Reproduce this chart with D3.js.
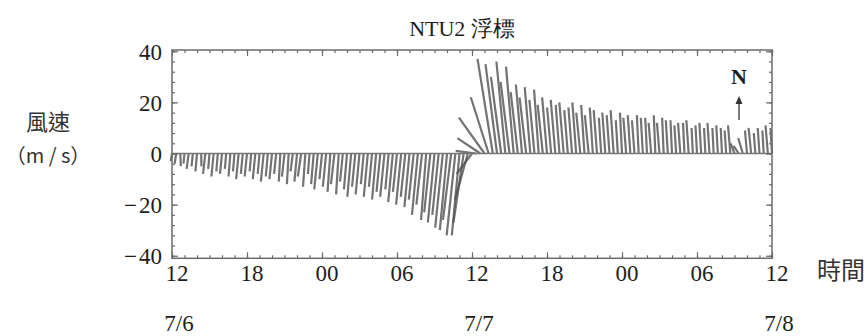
<!DOCTYPE html>
<html>
<head>
<meta charset="utf-8">
<script src="https://cdn.jsdelivr.net/npm/d3@7/dist/d3.min.js"></script>
<style>
  html, body { margin: 0; padding: 0; background: #fff; }
  svg { display: block; }
  .num { font-family: "Liberation Serif", "Times New Roman", serif; fill: #1e1e1e; }
  .cjk { font-family: "Noto Sans CJK TC", "Noto Sans CJK SC", sans-serif; fill: #333; }
</style>
</head>
<body>
<svg id="chart" width="867" height="336"></svg>
<script>
// ---------------- data ----------------
const title = "NTU2 浮標";
const yTitle1 = "風速";
const yTitle2 = "（m / s）";
const xTitle = "時間";
const northLabel = "N";

// sampling: every 20 minutes from 7/6 12:00 (hour 0) to 7/8 12:00 (hour 48)
const stepHours = 1 / 3;

// northward wind component v (m/s), 3 samples per hour
const vWind = [
  -3, -4, -5,   -4, -6, -5,   -7, -5, -8,   -6, -9, -7,    // h0-3
  -8, -6, -9,   -7, -10, -8,  -9, -7, -10,  -8, -11, -9,   // h4-7
  -10, -8, -11, -9, -12, -7,  -11, -9, -13, -8, -12, -14,  // h8-11
  -10, -13, -15, -12, -16, -11, -14, -17, -13, -16, -12, -17, // h12-15
  -13, -18, -15, -17, -14, -19, -15, -20, -17, -21, -18, -24, // h16-19
  -20, -26, -23, -27, -24, -29, -30, -26, -32, -32, -27, -18, // h20-23
  -8, 1, 6,     14, 22, 37,   35, 30, 36,   28, 34, 24,    // h24-27
  27, 22, 26,   21, 25, 19,   22, 18, 21,   19, 20, 17,    // h28-31
  18, 20, 16,   19, 15, 18,   17, 14, 16,   15, 17, 13,    // h32-35
  16, 14, 15,   13, 15, 14,   14, 12, 15,   12, 14, 13,    // h36-39
  13, 11, 12,   12, 13, 10,   11, 12, 10,   12, 10, 11,    // h40-43
  10, 9, 11,    4, 3, 6,      9, 10, 8,     10, 9, 11,     // h44-47
  10                                                       // h48
];

// eastward wind component u (m/s), 3 samples per hour
const uWind = [
  -0.5, -0.6, 0.2,  -0.4, -0.8, -0.5, -0.6, 0.1, -0.9, -0.5, -0.9, -0.6, // h0-3
  -0.8, -0.5, -0.7, -0.6, -1.0, -0.8, -0.9, -0.6, -1.0, -0.7, -1.1, -0.8, // h4-7
  -1.0, -0.8, -0.6, -1.0, -0.7, -0.9, -1.0, -1.3, -0.9, -0.6, -1.0, -1.4, // h8-11
  -1.0, -1.3, -1.1, -1.4, -1.0, -1.1, -1.2, -1.5, -1.3, -1.5, -1.1, -1.6, // h12-15
  -1.2, -1.6, -1.5, -1.7, -1.3, -1.8, -1.6, -2.0, -1.8, -2.0, -1.9, -2.3, // h16-19
  -2.2, -2.0, -2.4, -2.6, -2.5, -3.0, -2.8, -3.2, -3.4, -3.0, -4.0, -5.0, // h20-23
  -6, -8, -9,       -10, -7, -6,      -4.5, -4.0, -3.5, -3.5, -3.0, -2.8, // h24-27
  -2.4, -2.6, -2.2, -2.0, -1.8, -2.0, -1.9, -1.6, -1.8, -1.5, -1.7, -1.4, // h28-31
  -1.4, -1.5, -1.6, -1.3, -1.5, -1.2, -1.3, -0.9, -1.2, -1.1, -1.2, -0.8, // h32-35
  -0.8, -1.1, -1.0, -1.0, -0.7, -0.8, -0.7, -1.0, -0.6, -1.0, -0.6, -0.8, // h36-39
  -0.6, -0.7, -0.9, -0.6, -0.9, -0.5, -0.6, -0.7, -0.5, -0.8, -0.5, -0.6, // h40-43
  -0.5, -0.6, -0.9, -1.5, -2.0, -1.8, -0.8, -1.0, -0.6, -0.7, -0.5, -0.9, // h44-47
  -0.6                                                                    // h48
];

const hourTicks = [0, 6, 12, 18, 24, 30, 36, 42, 48];
const hourLabels = ["12", "18", "00", "06", "12", "18", "00", "06", "12"];
const datePos = [0, 24, 48];
const dateLabels = ["7/6", "7/7", "7/8"];
const yTicks = [-40, -20, 0, 20, 40];
const yTickLabels = ["\u2212\u200A40", "\u2212\u200A20", "0", "20", "40"];

// ---------------- drawing ----------------
const svg = d3.select("#chart");
const x = d3.scaleLinear().domain([0, 48]).range([172, 772]);
const y = d3.scaleLinear().domain([-41, 40.5]).range([258.3, 50]);
const pxPerUnit = y(0) - y(1);

const data = vWind.map((v, i) => ({ t: i * stepHours, u: uWind[i], v: v }));

// sticks
svg.append("g").selectAll("line").data(data).join("line")
  .attr("x1", d => x(d.t))
  .attr("y1", y(0))
  .attr("x2", d => x(d.t) + d.u * pxPerUnit)
  .attr("y2", d => y(d.v))
  .attr("stroke", "#505050")
  .attr("stroke-width", 2.2)
  .attr("stroke-opacity", 0.8);

// zero line
svg.append("line")
  .attr("x1", x(0)).attr("x2", x(48))
  .attr("y1", y(0)).attr("y2", y(0))
  .attr("stroke", "#777").attr("stroke-width", 1.5);

// axes with inward ticks
const axisColor = "#6b6b6b";
function styleAxis(g) {
  g.select(".domain").remove();
  g.selectAll("text").remove();
  g.selectAll("line").attr("stroke", axisColor).attr("stroke-width", 1.2);
}
const minorHours = d3.range(0, 49, 1);
const minorV = d3.range(-40, 41, 4);
const yBottom = y.range()[0], yTop = y.range()[1];

svg.append("g").attr("transform", `translate(0,${yBottom})`)
  .call(d3.axisBottom(x).tickValues(minorHours).tickSize(-3)).call(styleAxis);
svg.append("g").attr("transform", `translate(0,${yBottom})`)
  .call(d3.axisBottom(x).tickValues(hourTicks).tickSize(-6)).call(styleAxis);
svg.append("g").attr("transform", `translate(0,${yTop})`)
  .call(d3.axisTop(x).tickValues(minorHours).tickSize(-3)).call(styleAxis);
svg.append("g").attr("transform", `translate(0,${yTop})`)
  .call(d3.axisTop(x).tickValues(hourTicks).tickSize(-6)).call(styleAxis);
svg.append("g").attr("transform", `translate(${x(0)},0)`)
  .call(d3.axisLeft(y).tickValues(minorV).tickSize(-3)).call(styleAxis);
svg.append("g").attr("transform", `translate(${x(0)},0)`)
  .call(d3.axisLeft(y).tickValues(yTicks).tickSize(-6)).call(styleAxis);
svg.append("g").attr("transform", `translate(${x(48)},0)`)
  .call(d3.axisRight(y).tickValues(minorV).tickSize(-3)).call(styleAxis);
svg.append("g").attr("transform", `translate(${x(48)},0)`)
  .call(d3.axisRight(y).tickValues(yTicks).tickSize(-6)).call(styleAxis);

// frame
svg.append("rect")
  .attr("x", x(0)).attr("y", yTop)
  .attr("width", x(48) - x(0)).attr("height", yBottom - yTop)
  .attr("fill", "none").attr("stroke", axisColor).attr("stroke-width", 1.5);

// tick labels
svg.append("g").selectAll("text").data(hourTicks).join("text")
  .attr("class", "num")
  .attr("x", d => x(d) + 5).attr("y", 281)
  .attr("text-anchor", "middle").attr("font-size", 23)
  .text((d, i) => hourLabels[i]);

svg.append("g").selectAll("text").data(datePos).join("text")
  .attr("class", "num")
  .attr("x", d => x(d) + 7).attr("y", 331)
  .attr("text-anchor", "middle").attr("font-size", 23)
  .text((d, i) => dateLabels[i]);

svg.append("g").selectAll("text").data(yTicks).join("text")
  .attr("class", "num")
  .attr("x", 162).attr("y", d => y(d))
  .attr("dy", "0.36em")
  .attr("text-anchor", "end").attr("font-size", 23)
  .text((d, i) => yTickLabels[i]);

// titles
svg.append("text").attr("class", "num")
  .attr("x", 462).attr("y", 36).attr("text-anchor", "middle")
  .attr("font-size", 22).text(title);
svg.append("text").attr("class", "cjk")
  .attr("x", 48).attr("y", 130).attr("text-anchor", "middle")
  .attr("font-size", 22).text(yTitle1);
svg.append("text").attr("class", "cjk")
  .attr("x", 48).attr("y", 163).attr("text-anchor", "middle")
  .attr("font-size", 20).text(yTitle2);
svg.append("text").attr("class", "cjk")
  .attr("x", 841).attr("y", 279).attr("text-anchor", "middle")
  .attr("font-size", 24).text(xTitle);

// north indicator
svg.append("text").attr("class", "num")
  .attr("x", 739).attr("y", 84).attr("text-anchor", "middle")
  .attr("font-size", 22).attr("font-weight", "bold").text(northLabel);
svg.append("line")
  .attr("x1", 739).attr("x2", 739).attr("y1", 120).attr("y2", 99)
  .attr("stroke", "#333").attr("stroke-width", 1.3);
svg.append("path")
  .attr("d", "M739,96 L735.5,104 L742.5,104 Z")
  .attr("fill", "#333");
</script>
</body>
</html>
